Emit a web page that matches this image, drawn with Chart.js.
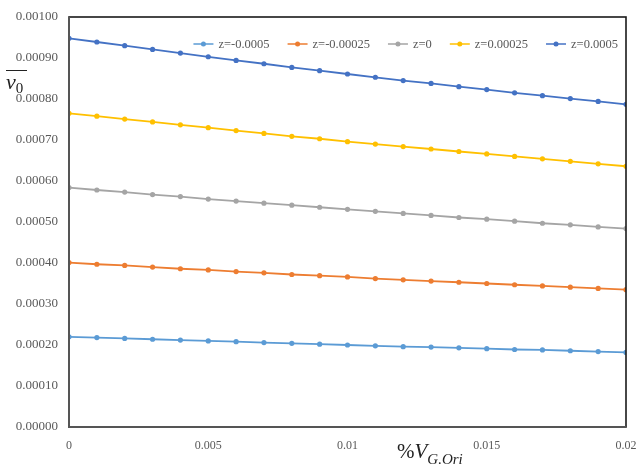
<!DOCTYPE html>
<html>
<head>
<meta charset="utf-8">
<script src="https://cdn.jsdelivr.net/npm/chart.js@4"></script>
<style>
  html, body { margin: 0; padding: 0; background: #fff; overflow: hidden; }
  #wrap { position: relative; width: 636px; height: 466px; overflow: hidden; }
  #box { position: absolute; left: 0; top: 0; width: 650px; height: 466px; }
  .ttl { position: absolute; font-family: "Liberation Serif", "DejaVu Serif", serif; color: #222; white-space: nowrap; line-height: 1; }
  #ytitle { left: 6px; top: 70px; width: 21px; border-top: 1.6px solid #222; padding-top: 0px; font-size: 22px; }
  #ytitle i { font-style: italic; }
  #ytitle sub { font-size: 15px; vertical-align: -4px; }
  #xtitle { left: 397px; top: 441px; font-size: 21px; }
  #xtitle i sub { font-size: 15px; vertical-align: -6px; }
</style>
</head>
<body>
<div id="wrap">
  <div id="box"><canvas id="myChart" width="650" height="466"></canvas></div>
  <div id="ytitle" class="ttl"><i>v</i><sub>0</sub></div>
  <div id="xtitle" class="ttl">%<i>V<sub>G.Ori</sub></i></div>
</div>
<script>
// x positions (%V G.Ori)
var xVals = [0, 0.001, 0.002, 0.003, 0.004, 0.005, 0.006, 0.007, 0.008, 0.009, 0.01,
             0.011, 0.012, 0.013, 0.014, 0.015, 0.016, 0.017, 0.018, 0.019, 0.02];

var seriesNames = ['z=-0.0005', 'z=-0.00025', 'z=0', 'z=0.00025', 'z=0.0005'];
var seriesColors = ['#5B9BD5', '#ED7D31', '#A5A5A5', '#FFC000', '#4472C4'];

var zNeg0005 = [0.000220, 0.000218, 0.000216, 0.000214, 0.000212, 0.000210, 0.000208, 0.000206, 0.000204, 0.000202, 0.000200,
                0.000198, 0.000196, 0.000195, 0.000193, 0.000191, 0.000189, 0.000188, 0.000186, 0.000184, 0.000182];
var zNeg00025 = [0.000401, 0.000397, 0.000394, 0.000390, 0.000386, 0.000383, 0.000379, 0.000376, 0.000372, 0.000369, 0.000366,
                 0.000362, 0.000359, 0.000356, 0.000353, 0.000350, 0.000347, 0.000344, 0.000341, 0.000338, 0.000335];
var zZero = [0.000584, 0.000578, 0.000573, 0.000567, 0.000562, 0.000556, 0.000551, 0.000546, 0.000541, 0.000536, 0.000531,
             0.000526, 0.000521, 0.000516, 0.000511, 0.000507, 0.000502, 0.000497, 0.000493, 0.000488, 0.000484];
var zPos00025 = [0.000765, 0.000758, 0.000751, 0.000744, 0.000737, 0.000730, 0.000723, 0.000716, 0.000709, 0.000703, 0.000696,
                 0.000690, 0.000684, 0.000678, 0.000672, 0.000666, 0.000660, 0.000654, 0.000648, 0.000642, 0.000636];
var zPos0005 = [0.000948, 0.000939, 0.000930, 0.000921, 0.000912, 0.000903, 0.000894, 0.000886, 0.000877, 0.000869, 0.000861,
                0.000853, 0.000845, 0.000838, 0.000830, 0.000823, 0.000815, 0.000808, 0.000801, 0.000794, 0.000787];

var seriesData = [zNeg0005, zNeg00025, zZero, zPos00025, zPos0005];

var datasets = [];
for (let i = 0; i < seriesNames.length; i++) {
    datasets.push({
        label: seriesNames[i],
        data: xVals.map((x, j) => ({ x: x, y: seriesData[i][j] })),
        borderColor: seriesColors[i],
        backgroundColor: seriesColors[i],
        borderWidth: 1.8,
        pointRadius: 2.6,
        pointHoverRadius: 2.6,
        pointBorderWidth: 0,
        fill: false,
        tension: 0
    });
}

// frame round the plot area
var frame = {
    id: 'frame',
    afterDraw(chart) {
        var a = chart.chartArea, ctx = chart.ctx;
        ctx.save();
        ctx.strokeStyle = '#1a1a1a';
        ctx.lineWidth = 1.6;
        ctx.strokeRect(a.left, a.top, a.right - a.left, a.bottom - a.top);
        ctx.strokeStyle = '#555';
        ctx.lineWidth = 2;
        ctx.beginPath();
        ctx.moveTo(a.left, a.top); ctx.lineTo(a.left, a.bottom); ctx.lineTo(a.right, a.bottom);
        ctx.stroke();
        ctx.restore();
    }
};

// one-row legend inside the plot area, top right (Excel style: line + dot)
var insideLegend = {
    id: 'insideLegend',
    afterDatasetsDraw(chart) {
        var ctx = chart.ctx, a = chart.chartArea;
        var ds = chart.data.datasets;
        ctx.save();
        ctx.font = '12.5px "Liberation Serif"';
        ctx.textBaseline = 'middle';
        var lineW = 20, gapText = 5, gapItem = 18;
        var total = 0;
        ds.forEach((d, i) => {
            total += lineW + gapText + ctx.measureText(d.label).width;
            if (i < ds.length - 1) total += gapItem;
        });
        var x = a.right - 8 - total, y = a.top + 27;
        ds.forEach(d => {
            ctx.strokeStyle = d.borderColor; ctx.lineWidth = 1.5;
            ctx.beginPath(); ctx.moveTo(x, y); ctx.lineTo(x + lineW, y); ctx.stroke();
            ctx.fillStyle = d.borderColor;
            ctx.beginPath(); ctx.arc(x + lineW / 2, y, 2.5, 0, Math.PI * 2); ctx.fill();
            x += lineW + gapText;
            ctx.fillStyle = '#595959';
            ctx.fillText(d.label, x, y + 1);
            x += ctx.measureText(d.label).width + gapItem;
        });
        ctx.restore();
    }
};

var ctx = document.getElementById('myChart').getContext('2d');
var chart = new Chart(ctx, {
    type: 'line',
    data: { datasets: datasets },
    plugins: [frame, insideLegend],
    options: {
        responsive: false,
        animation: false,
        layout: { padding: { top: 17, right: 24, left: 0, bottom: 0 } },
        plugins: {
            tooltip: { enabled: false },
            legend: { display: false }
        },
        scales: {
            x: {
                type: 'linear',
                min: 0,
                max: 0.02,
                grid: { display: false },
                border: { display: false },
                ticks: {
                    stepSize: 0.005,
                    autoSkip: false,
                    maxRotation: 0,
                    padding: 4,
                    color: '#595959',
                    font: { family: 'Liberation Serif', size: 12 },
                    callback: v => String(Number(v.toFixed(3)))
                },
                afterFit: s => { s.height = 39; }
            },
            y: {
                min: 0,
                max: 0.001,
                grid: { display: false },
                border: { display: false },
                ticks: {
                    stepSize: 0.0001,
                    padding: 3,
                    color: '#595959',
                    font: { family: 'Liberation Serif', size: 13 },
                    callback: v => v.toFixed(5)
                },
                afterFit: s => { s.width = 69; }
            }
        }
    }
});
</script>
</body>
</html>
